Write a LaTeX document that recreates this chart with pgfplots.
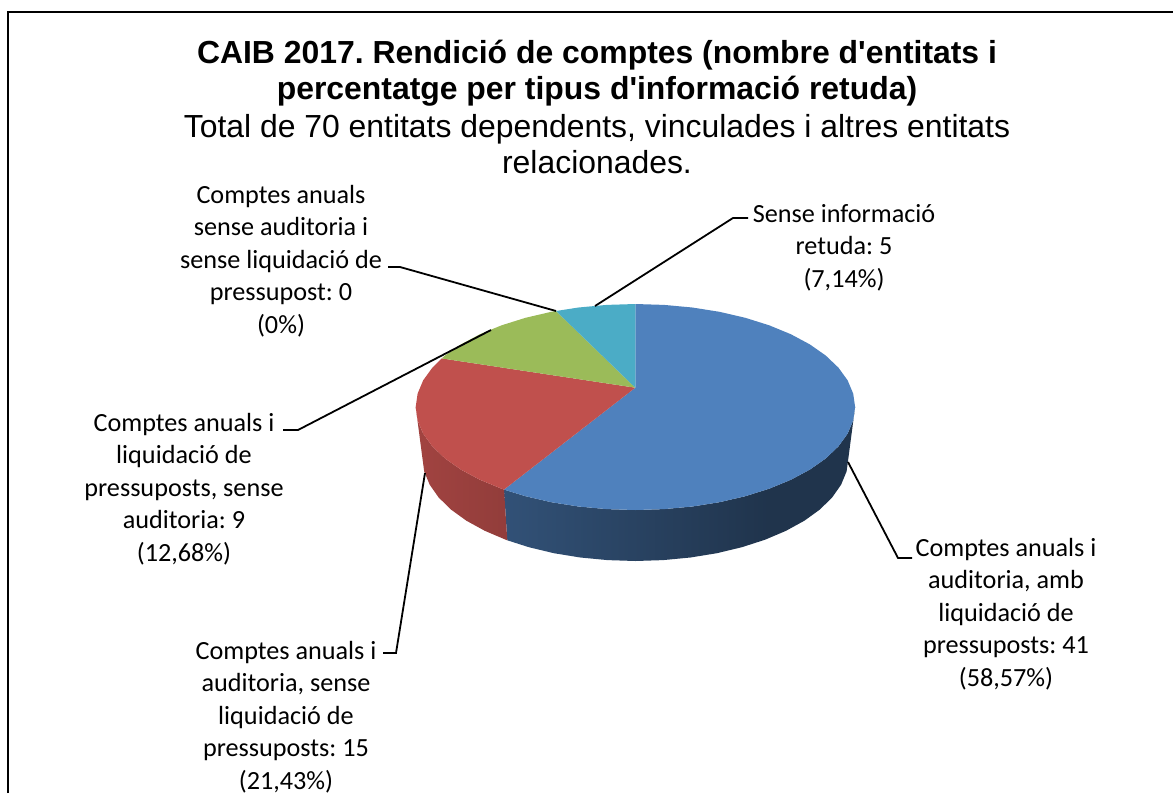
\documentclass[border=0pt]{standalone}
\usepackage{pgfplots}
\pgfplotsset{compat=1.18}
\usepackage{fontspec}
\setmainfont{Carlito}
\newfontfamily\arial{Liberation Sans}
\definecolor{cblue}{HTML}{4F81BD}
\definecolor{cred}{HTML}{C0504D}
\definecolor{cgreen}{HTML}{9BBB59}
\definecolor{cteal}{HTML}{4BACC6}
\pgfdeclarehorizontalshading{blueside}{100bp}{color(0bp)=(cblue!78!black); color(63bp)=(cblue!40!black); color(100bp)=(cblue!40!black)}
\pgfdeclarehorizontalshading{redside}{100bp}{color(0bp)=(cred!88!black); color(100bp)=(cred!72!black)}
\tikzset{lbl/.style={font=\fontsize{26.2}{32.5}\selectfont, align=center, inner sep=0pt, anchor=center},
  lead/.style={black, line width=1.8pt}}
\frenchspacing
\begin{document}
\frenchspacing
\begin{tikzpicture}[x=1pt,y=1pt]
\begin{axis}[scale only axis, width=1173pt, height=793pt, hide axis,
  xmin=0, xmax=1173, ymin=0, ymax=793, y dir=reverse, clip=true]
\path[use as bounding box] (axis cs:0,0) rectangle (axis cs:1173,793);
% chart frame
\addplot[black, line width=2pt, no markers] coordinates {(8,793) (8,12) (1173,12)};
% side walls
\addplot[draw=none, shading=blueside] coordinates {
(504,489.6) (525.5,496.2) (551.3,502.2) (578.5,506.5) (606.7,509.1) (635.4,510) (664.1,509.1) (692.3,506.5) (719.5,502.2) (745.3,496.2) (769.2,488.7) (790.8,479.8) (809.7,469.7) (825.7,458.5) (838.4,446.4) (847.6,433.7) (853.2,420.4) (855.1,407)
(848.4,458) (846.6,471.4) (841.1,484.7) (832.2,497.4) (819.9,509.5) (804.4,520.7) (786,530.8) (765.1,539.7) (741.9,547.2) (716.9,553.2) (690.5,557.5) (663.2,560.1) (635.4,561) (607.6,560.1) (580.3,557.5) (553.9,553.2) (528.9,547.2) (507.3,540.3)} -- cycle;
\addplot[draw=none, shading=redside] coordinates {
(504,489.6) (501.6,488.7) (480,479.8) (461.1,469.7) (445.1,458.5) (432.4,446.4) (423.2,433.7) (417.6,420.4) (415.7,407)
(422.4,458) (424.2,471.4) (429.7,484.7) (438.6,497.4) (450.9,509.5) (466.4,520.7) (484.8,530.8) (505.7,539.7) (507.3,540.3)} -- cycle;
% top faces
\addplot[draw=none, fill=cblue] coordinates {
(635.3,387.7) (635.4,304) (664.1,304.9) (692.3,307.5) (719.5,311.8) (745.3,317.8) (769.2,325.3) (790.8,334.2) (809.7,344.3) (825.7,355.5) (838.4,367.6) (847.6,380.3) (853.2,393.6) (855.1,407) (853.2,420.4) (847.6,433.7) (838.4,446.4) (825.7,458.5) (809.7,469.7) (790.8,479.8) (769.2,488.7) (745.3,496.2) (719.5,502.2) (692.3,506.5) (664.1,509.1) (635.4,510) (606.7,509.1) (578.5,506.5) (551.3,502.2) (525.5,496.2) (504,489.6)} -- cycle;
\addplot[draw=none, fill=cred] coordinates {
(635.3,387.7) (504,489.6) (501.6,488.7) (480,479.8) (461.1,469.7) (445.1,458.5) (432.4,446.4) (423.2,433.7) (417.6,420.4) (415.7,407) (417.6,393.6) (423.2,380.3) (432.4,367.6) (441.7,358.4)} -- cycle;
\addplot[draw=none, fill=cgreen] coordinates {
(635.3,387.7) (441.7,358.4) (445.1,355.5) (461.1,344.3) (480,334.2) (501.6,325.3) (525.5,317.8) (551.3,311.8) (556,311)} -- cycle;
\addplot[draw=none, fill=cteal] coordinates {
(635.3,387.7) (556,311) (578.5,307.5) (606.7,304.9) (635.4,304)} -- cycle;
% leader lines
\addplot[lead] coordinates {(595,306) (733,218) (748,218)};
\addplot[lead] coordinates {(556,311) (400,267) (388,267)};
\addplot[lead] coordinates {(491,330) (298,430) (283,430)};
\addplot[lead] coordinates {(425,473) (396,653) (383,653)};
\addplot[lead] coordinates {(848,462) (898,558) (912,558)};
% titles
\node[align=center, inner sep=0pt, font=\arial\bfseries\fontsize{31.9}{36.5}\selectfont] at (axis cs:597,73) {CAIB 2017. Rendició de comptes (nombre d'entitats i\\percentatge per tipus d'informació retuda)};
\node[align=center, inner sep=0pt, font=\arial\fontsize{31.9}{36}\selectfont] at (axis cs:597,144) {Total de 70 entitats dependents, vinculades i altres entitats\\relacionades.};
% data labels
\node[lbl] at (axis cs:281,261) {Comptes anuals\\sense auditoria i\\sense liquidació de\\pressupost: 0\\(0\%)};
\node[lbl] at (axis cs:844,247.5) {Sense informació\\retuda: 5\\(7,14\%)};
\node[lbl] at (axis cs:184,489) {Comptes anuals i\\liquidació de\\pressuposts, sense\\auditoria: 9\\(12,68\%)};
\node[lbl] at (axis cs:286,717) {Comptes anuals i\\auditoria, sense\\liquidació de\\pressuposts: 15\\(21,43\%)};
\node[lbl] at (axis cs:1006,614) {Comptes anuals i\\auditoria, amb\\liquidació de\\pressuposts: 41\\(58,57\%)};
\end{axis}
\end{tikzpicture}
\end{document}
